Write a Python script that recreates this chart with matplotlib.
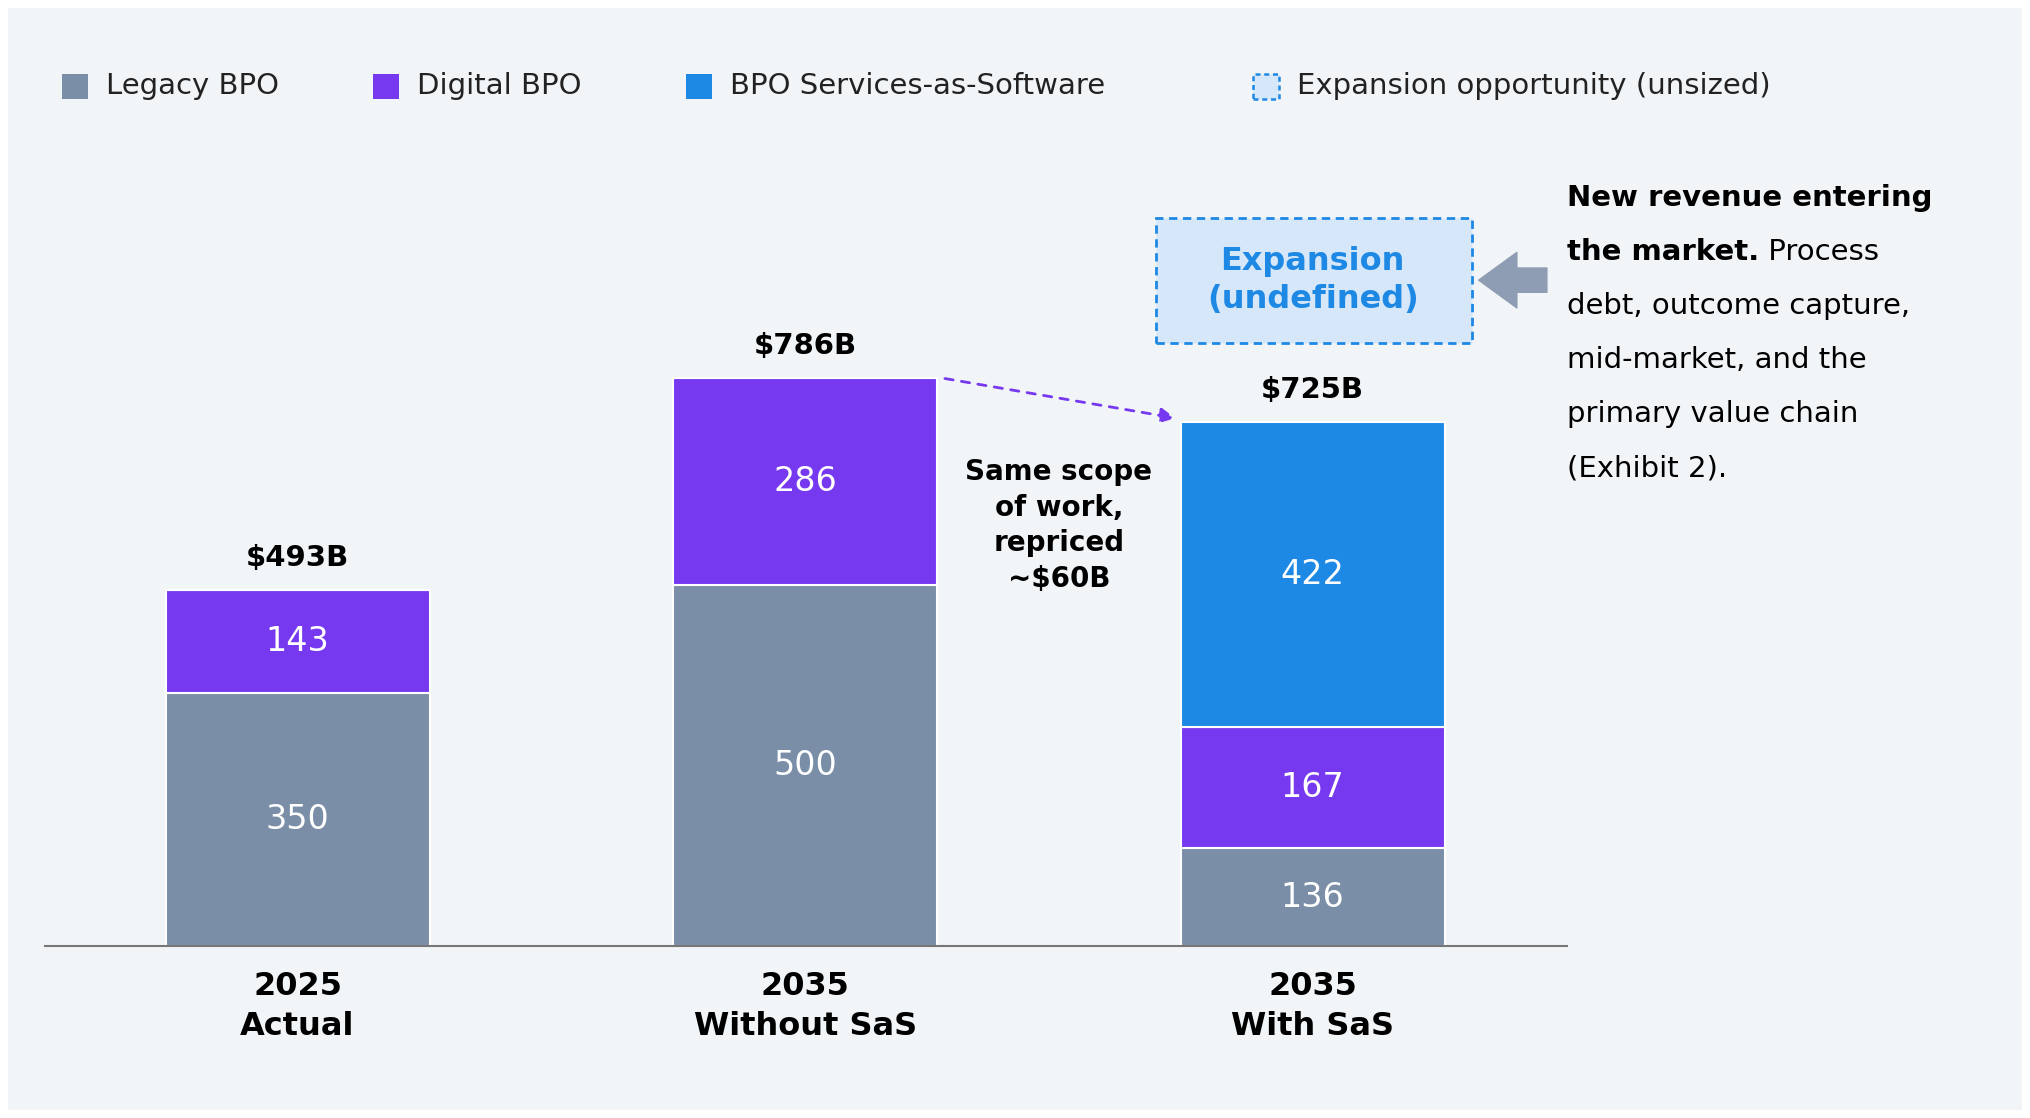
import matplotlib
matplotlib.use("Agg")
import matplotlib.pyplot as plt
from matplotlib.patches import Rectangle, FancyArrowPatch
import numpy as np

categories = ["2025\nActual", "2035\nWithout SaS", "2035\nWith SaS"]
legacy = [350, 500, 136]
digital = [143, 286, 167]
sas = [0, 0, 422]
totals = ["$493B", "$786B", "$725B"]
expansion_range = [834, 1007]

C_LEG, C_DIG, C_SAS = "#7a8ea8", "#7739f0", "#1e88e5"
W, H = 1568, 866
def fx(x): return x / W
def fy(y): return 1 - y / H

fig = plt.figure(figsize=(20.3, 11.18), dpi=100, facecolor="white")
fig.patches.append(Rectangle((fx(6), fy(860)), fx(1556), 854 / H, transform=fig.transFigure,
                             facecolor="#f2f5f8", edgecolor="none", zorder=-10))
ax = fig.add_axes([fx(35), fy(733), fx(1175), 633 / H])
ax.set_facecolor("none")
ax.set_xlim(-0.497, 2.5)
ax.set_ylim(0, 633 / 0.56)
for s in ["top", "right", "left"]:
    ax.spines[s].set_visible(False)
ax.spines["bottom"].set_color("#777777")
ax.spines["bottom"].set_linewidth(1.5)
ax.set_yticks([])
x = np.arange(3)
bw = 0.52
kw = dict(width=bw, edgecolor="white", linewidth=1.5)
ax.bar(x, legacy, color=C_LEG, **kw)
ax.bar(x, digital, bottom=legacy, color=C_DIG, **kw)
ax.bar(x, sas, bottom=np.add(legacy, digital), color=C_SAS, **kw)
fs = 24
for i in range(3):
    segs = [(legacy[i], 0), (digital[i], legacy[i]), (sas[i], legacy[i] + digital[i])]
    for v, b in segs:
        if v > 0:
            ax.text(i, b + v / 2, str(v), ha="center", va="center", color="white", fontsize=fs)
    tot = legacy[i] + digital[i] + sas[i]
    ax.text(i, tot + 25, totals[i], ha="center", va="bottom", fontsize=21, fontweight="bold")
ax.set_xticks(x)
ax.set_xticklabels(categories, fontsize=23, fontweight="bold", linespacing=1.35)
ax.tick_params(axis="x", length=0, pad=18)

# expansion box
ax.add_patch(Rectangle((2 - 0.309, expansion_range[0]), 0.622, expansion_range[1] - expansion_range[0],
                       facecolor="#d5e7f8", edgecolor=C_SAS, linestyle=(0, (3, 2)), linewidth=2))
ax.text(2, sum(expansion_range) / 2, "Expansion\n(undefined)", ha="center", va="center",
        color=C_SAS, fontsize=23, fontweight="bold", linespacing=1.3)

# dashed repricing arrow
ax.annotate("", xy=(1.735, 730), xytext=(1.27, 786),
            arrowprops=dict(arrowstyle="-|>,head_length=0.9,head_width=0.45", color=C_DIG,
                            linestyle=(0, (3, 3)), linewidth=2))
ax.text(1.5, 582, "Same scope\nof work,\nrepriced\n~$60B", ha="center", va="center",
        fontsize=20, fontweight="bold", linespacing=1.35)

# grey arrow pointing at box
fig.patches.append(FancyArrowPatch((fx(1197), fy(217)), (fx(1140), fy(217)), transform=fig.transFigure,
                                   arrowstyle="simple,head_length=1.1,head_width=1.6,tail_width=0.7",
                                   mutation_scale=25, color="#8e9db3"))

# side annotation
tx, ty, ls = fx(1210), 153, 42
fig.text(tx, fy(ty), "New revenue entering", fontsize=21, fontweight="bold", va="center")
t2 = fig.text(tx, fy(ty + ls), "the market.", fontsize=21, fontweight="bold", va="center")
ax.annotate(" Process", xy=(1, 0.5), xycoords=t2, va="center", ha="left", fontsize=21,
            annotation_clip=False)
for k, line in enumerate(["debt, outcome capture,", "mid-market, and the",
                          "primary value chain", "(Exhibit 2)."]):
    fig.text(tx, fy(ty + ls * (k + 2)), line, fontsize=21, va="center")

# legend
leg = [(58, "Legacy BPO", C_LEG, False), (298, "Digital BPO", C_DIG, False),
       (540, "BPO Services-as-Software", C_SAS, False), (978, "Expansion opportunity (unsized)", C_SAS, True)]
sq = 20
for px, lab, c, dashed in leg:
    if dashed:
        r = Rectangle((fx(px - sq / 2), fy(67 + sq / 2)), sq / W, sq / H, transform=fig.transFigure,
                      facecolor="#d5e7f8", edgecolor=c, linestyle=(0, (2, 1.5)), linewidth=1.8)
    else:
        r = Rectangle((fx(px - sq / 2), fy(67 + sq / 2)), sq / W, sq / H, transform=fig.transFigure,
                      facecolor=c, edgecolor="none")
    fig.patches.append(r)
    fig.text(fx(px + 24), fy(67), lab, fontsize=21, va="center", color="#222222")

fig.savefig("out.png", dpi=100, facecolor=fig.get_facecolor())
